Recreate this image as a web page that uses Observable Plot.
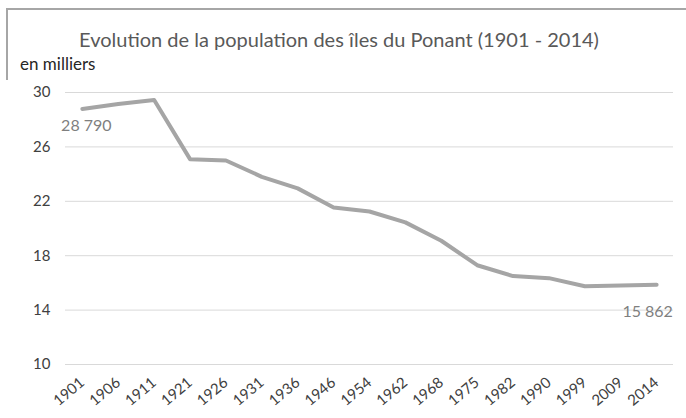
<!DOCTYPE html>
<html>
<head>
<meta charset="utf-8">
<script src="https://cdn.jsdelivr.net/npm/d3@7"></script>
<script src="https://cdn.jsdelivr.net/npm/@observablehq/plot@0.6"></script>
<style>
  body { margin: 0; background: #fff; font-family: Lato, sans-serif; }
  #frame { position: absolute; left: 6px; top: 8px; width: 720px; height: 440px;
           border-left: 2px solid #a6a6a6; border-top: 2px solid #a6a6a6; }
  #title { position: absolute; left: 0; top: 27px; width: 678px; text-align: center;
           font-size: 20px; line-height: 24px; color: #595959; }
  #unit { position: absolute; left: 20px; top: 54px; font-size: 17px; line-height: 20px; color: #262626; }
  #chart { position: absolute; left: 0; top: 80px; }
</style>
</head>
<body>
<div id="frame"></div>
<div id="title">Evolution de la population des îles du Ponant (1901 - 2014)</div>
<div id="unit">en milliers</div>
<div id="chart"></div>
<script>
const years = ["1901","1906","1911","1921","1926","1931","1936","1946","1954","1962","1968","1975","1982","1990","1999","2009","2014"];
const population = [28.79, 29.15, 29.45, 25.1, 25.0, 23.8, 22.95, 21.55, 21.25, 20.45, 19.1, 17.3, 16.5, 16.35, 15.75, 15.8, 15.862];
const yTicks = [10, 14, 18, 22, 26, 30];

const data = years.map((y, i) => ({year: y, value: population[i]}));
const fmt = d3.formatLocale({thousands: "\u00a0", grouping: [3], decimal: ","}).format(",");
const label = d => fmt(Math.round(d.value * 1000));

const chart = Plot.plot({
  width: 686,
  height: 338,
  marginTop: 12,
  marginLeft: 65,
  marginRight: 13,
  marginBottom: 54,
  style: { fontFamily: "Lato, sans-serif", fontSize: "15px", color: "#404040", background: "#fff" },
  x: { type: "point", domain: years, padding: 0.47, round: false },
  y: { domain: [10, 30] },
  marks: [
    Plot.ruleY(yTicks, { stroke: "#d9d9d9", strokeWidth: 1 }),
    Plot.axisY({ ticks: yTicks, tickSize: 0, tickPadding: 15, label: null, fill: "#404040" }),
    Plot.axisX({ tickSize: 0, tickRotate: -40, tickPadding: 16, label: null, fill: "#404040" }),
    Plot.line(data, { x: "year", y: "value", stroke: "#a5a5a5", strokeWidth: 4, strokeLinejoin: "round" }),
    Plot.text(data.slice(0, 1), { x: "year", y: "value", text: label, dy: 17, dx: 4, fill: "#7f7f7f", fontSize: 16 }),
    Plot.text(data.slice(-1), { x: "year", y: "value", text: label, dy: 27, dx: -9, fill: "#7f7f7f", fontSize: 16 })
  ]
});
document.getElementById("chart").appendChild(chart);
</script>
</body>
</html>
